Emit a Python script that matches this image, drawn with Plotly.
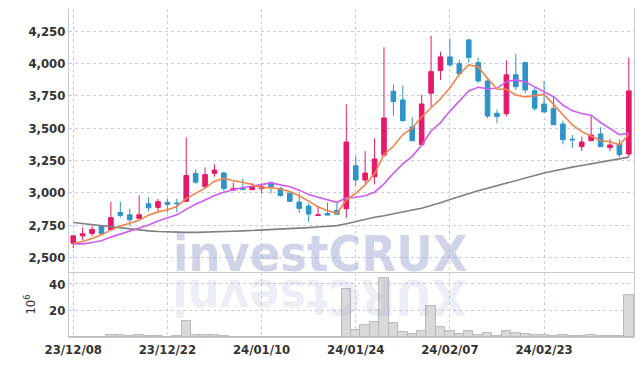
import plotly.graph_objects as go
from plotly.subplots import make_subplots

dates = [
    "2023-12-08", "2023-12-11", "2023-12-12", "2023-12-13", "2023-12-14", "2023-12-15",
    "2023-12-18", "2023-12-19", "2023-12-20", "2023-12-21", "2023-12-22", "2023-12-26",
    "2023-12-27", "2023-12-28", "2024-01-02", "2024-01-03", "2024-01-04", "2024-01-05",
    "2024-01-08", "2024-01-09", "2024-01-10", "2024-01-11", "2024-01-12", "2024-01-15",
    "2024-01-16", "2024-01-17", "2024-01-18", "2024-01-19", "2024-01-22", "2024-01-23",
    "2024-01-24", "2024-01-25", "2024-01-26", "2024-01-29", "2024-01-30", "2024-01-31",
    "2024-02-01", "2024-02-02", "2024-02-05", "2024-02-06", "2024-02-07", "2024-02-08",
    "2024-02-13", "2024-02-14", "2024-02-15", "2024-02-16", "2024-02-19", "2024-02-20",
    "2024-02-21", "2024-02-22", "2024-02-23", "2024-02-26", "2024-02-27", "2024-02-28",
    "2024-02-29", "2024-03-04", "2024-03-05", "2024-03-06", "2024-03-07", "2024-03-08",
]

opens = [2610, 2667, 2685, 2745, 2714, 2848, 2830, 2802, 2915, 2887,
         2926, 2921, 2934, 3150, 3048, 3150, 3152, 3020, 3036, 3024,
         3031, 3080, 3034, 2997, 2928, 2897, 2824, 2840, 2864, 2876,
         3209, 3098, 3124, 3291, 3784, 3717, 3508, 3371, 3769, 3944,
         4050, 3998, 4181, 4006, 3864, 3614, 3611, 3911, 4006, 3789,
         3686, 3650, 3531, 3414, 3356, 3402, 3454, 3348, 3376, 3299]
highs = [2667, 2732, 2745, 2750, 2931, 2931, 2877, 2980, 2967, 2952,
         2954, 2954, 3428, 3180, 3196, 3219, 3164, 3079, 3109, 3074,
         3070, 3084, 3044, 3009, 2994, 2919, 2896, 2924, 2919, 3684,
         3284, 3322, 3421, 4125, 3837, 3829, 3584, 3758, 4213, 4091,
         4192, 4027, 4189, 4046, 3869, 3644, 4024, 4073, 4011, 3820,
         3864, 3748, 3557, 3446, 3433, 3596, 3506, 3418, 3412, 4045]
lows = [2572, 2631, 2662, 2680, 2709, 2809, 2745, 2800, 2856, 2853,
        2848, 2848, 2928, 3068, 3042, 3124, 3012, 3020, 3020, 3020,
        2994, 2994, 2969, 2929, 2844, 2774, 2822, 2824, 2832, 2806,
        3051, 3072, 3064, 3278, 3596, 3549, 3399, 3369, 3665, 3872,
        3975, 3911, 4004, 3846, 3575, 3537, 3591, 3794, 3768, 3634,
        3622, 3524, 3374, 3344, 3322, 3399, 3354, 3322, 3274, 3278]
closes = [2667, 2683, 2716, 2683, 2807, 2825, 2791, 2830, 2884, 2931,
          2910, 2916, 3133, 3082, 3140, 3175, 3032, 3034, 3026, 3046,
          3046, 3046, 2979, 2934, 2879, 2835, 2829, 2827, 2834, 3392,
          3098, 3152, 3261, 3578, 3704, 3557, 3402, 3686, 3936, 4050,
          3988, 3919, 4045, 3864, 3593, 3589, 3911, 3820, 3794, 3653,
          3624, 3526, 3410, 3409, 3392, 3446, 3356, 3369, 3294, 3787]

ma5 = [2610, 2623, 2647, 2675, 2711, 2743, 2764, 2787, 2827, 2852,
       2869, 2894, 2955, 2994, 3036, 3089, 3112, 3093, 3081, 3063,
       3037, 3040, 3029, 3010, 2977, 2935, 2891, 2861, 2841, 2943,
       2996, 3061, 3147, 3296, 3359, 3450, 3500, 3585, 3657, 3726,
       3812, 3916, 3988, 3973, 3882, 3802, 3800, 3755, 3741, 3753,
       3760, 3683, 3601, 3524, 3472, 3437, 3403, 3394, 3371, 3450]
ma10 = [2605, 2605, 2616, 2629, 2657, 2680, 2701, 2727, 2750, 2782,
        2806, 2829, 2871, 2911, 2944, 2979, 3003, 3024, 3038, 3049,
        3063, 3076, 3061, 3046, 3020, 2986, 2965, 2945, 2926, 2960,
        2965, 2976, 3004, 3069, 3151, 3223, 3281, 3366, 3477, 3542,
        3631, 3708, 3787, 3815, 3804, 3807, 3858, 3872, 3857, 3818,
        3781, 3742, 3678, 3633, 3613, 3599, 3543, 3498, 3448, 3461]
ma_long = [2770, 2762, 2753, 2744, 2735, 2726, 2718, 2711, 2705, 2700,
           2697, 2695, 2694, 2694, 2695, 2697, 2699, 2702, 2705, 2708,
           2711, 2715, 2718, 2722, 2726, 2730, 2735, 2740, 2746, 2760,
           2778, 2796, 2810, 2822, 2838, 2852, 2866, 2880, 2900, 2922,
           2948, 2972, 2995, 3015, 3035, 3055, 3075, 3095, 3115, 3135,
           3152, 3168, 3185, 3198, 3210, 3222, 3235, 3248, 3260, 3275]

volumes_m = [0.1, 0.1, 0.1, 0.2, 1.8, 1.3, 1.0, 1.8, 1.0, 1.0,
             0.1, 1.0, 12.4, 1.2, 1.2, 1.2, 1.0, 0.1, 0.1, 0.1,
             0.1, 0.1, 0.1, 0.1, 0.1, 0.1, 0.1, 0.1, 0.1, 36.0,
             5.2, 9.2, 11.5, 44.4, 10.5, 4.0, 2.5, 4.5, 23.4, 7.5,
             4.7, 2.5, 4.5, 1.2, 3.0, 0.7, 4.5, 3.0, 2.2, 1.5,
             1.5, 0.7, 1.5, 0.7, 0.7, 1.5, 0.7, 0.5, 0.7, 31.5]

tick_dates = ["2023-12-08", "2023-12-22", "2024-01-10", "2024-01-24", "2024-02-07", "2024-02-23"]
tick_labels = ["23/12/08", "23/12/22", "24/01/10", "24/01/24", "24/02/07", "24/02/23"]
price_ticks = [2500, 2750, 3000, 3250, 3500, 3750, 4000, 4250]
volume_ticks = [20, 40]

RED = "#e5196a"
BLUE = "#2f93c8"
GRID = "#c9cbe0"
AXIS = "#c8c8d2"
FONT = "DejaVu Sans Condensed, Roboto, Liberation Sans, sans-serif"
TICKFONT = dict(family=FONT, size=13, color="#333333", weight="bold")

fig = make_subplots(rows=2, cols=1, shared_xaxes=True, vertical_spacing=0,
                    row_heights=[0.802, 0.198])

fig.add_trace(go.Candlestick(
    x=dates, open=opens, high=highs, low=lows, close=closes,
    increasing=dict(line=dict(color=RED, width=1), fillcolor=RED),
    decreasing=dict(line=dict(color=BLUE, width=1), fillcolor=BLUE),
    showlegend=False, hoverinfo="skip"), row=1, col=1)

fig.add_trace(go.Scatter(x=dates, y=ma_long, mode="lines",
                         line=dict(color="#7f7f7f", width=1.6), showlegend=False), row=1, col=1)
fig.add_trace(go.Scatter(x=dates, y=ma10, mode="lines",
                         line=dict(color="#cf5cf0", width=1.6), showlegend=False), row=1, col=1)
fig.add_trace(go.Scatter(x=dates, y=ma5, mode="lines",
                         line=dict(color="#f0834a", width=1.6), showlegend=False), row=1, col=1)

fig.add_trace(go.Bar(x=dates, y=volumes_m,
                     marker=dict(color="#d9d9d9", line=dict(color="#b9b9b9", width=1)),
                     showlegend=False), row=2, col=1)

# the page body adds an 8px margin, so the figure is sized to fit the 643x366 window
fig.update_layout(
    width=635, height=358,
    margin=dict(l=61, r=9, t=1, b=29),
    paper_bgcolor="white", plot_bgcolor="white",
    bargap=0,
    font=dict(family=FONT, size=13, color="#333333"),
)

common_x = dict(type="category", range=[-0.45, 59.55],
                tickmode="array", tickvals=tick_dates, ticktext=tick_labels,
                showgrid=True, gridcolor=GRID, griddash="dot", gridwidth=1,
                showline=True, linecolor=AXIS, linewidth=1,
                zeroline=False, ticks="")
fig.update_xaxes(**common_x, rangeslider=dict(visible=False))
fig.update_xaxes(showticklabels=False, row=1, col=1)
fig.update_xaxes(showticklabels=True, tickfont=TICKFONT, row=2, col=1)

fig.update_yaxes(range=[2387, 4420], tickvals=price_ticks, tickformat=",",
                 showgrid=True, gridcolor=GRID, griddash="dot",
                 showline=True, linecolor=AXIS, mirror=True, zeroline=False,
                 ticks="", tickfont=TICKFONT, row=1, col=1)
fig.update_yaxes(range=[0, 49], tickvals=volume_ticks,
                 showgrid=True, gridcolor=GRID, griddash="dot",
                 showline=True, linecolor=AXIS, mirror=True, zeroline=False,
                 ticks="", tickfont=TICKFONT,
                 title=dict(text="10<sup>6</sup>", font=dict(family=FONT, size=13, color="#333333"),
                            standoff=10),
                 row=2, col=1)

fig.add_annotation(text="investCRUX", xref="paper", yref="paper", x=0.444, y=0.253,
                   xanchor="center", yanchor="middle", showarrow=False,
                   font=dict(family=FONT, size=50, color="rgba(150,160,205,0.45)", weight="bold"))
fig.add_annotation(text="XURCtsevni", xref="paper", yref="paper", x=0.444, y=0.12,
                   xanchor="center", yanchor="middle", showarrow=False, textangle=180,
                   font=dict(family=FONT, size=50, color="rgba(150,160,205,0.18)", weight="bold"))

fig.write_html("out.html")
